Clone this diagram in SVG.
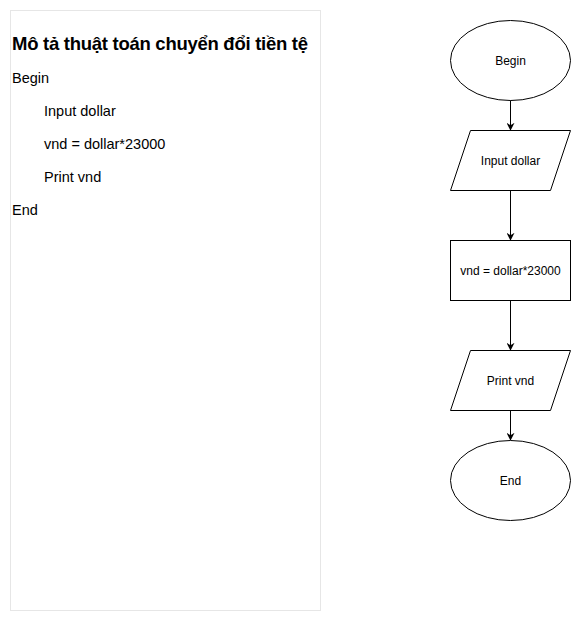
<svg xmlns="http://www.w3.org/2000/svg" width="581" height="623" viewBox="0 0 581 623">
<defs>
<style>
.n{fill:#fff;stroke:#000;stroke-width:1}
.t{font-family:"Liberation Sans",Arial,sans-serif;font-size:12px;fill:#000;text-anchor:middle;dominant-baseline:central}
.d{font-family:"Liberation Sans",Arial,sans-serif;font-size:14.5px;fill:#000}
.c{stroke:#000;stroke-width:1;fill:none;marker-end:url(#a)}
</style>
<marker id="a" viewBox="0 0 10 10" refX="9" refY="5" markerWidth="8" markerHeight="8" markerUnits="userSpaceOnUse" orient="auto">
<path d="M0,0 L10,5 L0,10 L3,5 Z" fill="#000"/>
</marker>
</defs>
<rect width="581" height="623" fill="#fff"/>
<g id="desc">
<rect x="10.5" y="10.5" width="310" height="600" fill="#fff" stroke="#e6e6e6"/>
<text class="d" x="12" y="50" style="font-size:18.5px;font-weight:bold" textLength="296" lengthAdjust="spacing">Mô tả thuật toán chuyển đổi tiền tệ</text>
<text class="d" x="12" y="83">Begin</text>
<text class="d" x="44" y="116">Input dollar</text>
<text class="d" x="44" y="149">vnd = dollar*23000</text>
<text class="d" x="44" y="182">Print vnd</text>
<text class="d" x="12" y="215">End</text>
</g>
<g id="connectors">
<line class="c" x1="510.5" y1="100" x2="510.5" y2="130"/>
<line class="c" x1="510.5" y1="190" x2="510.5" y2="240"/>
<line class="c" x1="510.5" y1="300" x2="510.5" y2="350"/>
<line class="c" x1="510.5" y1="410" x2="510.5" y2="440"/>
</g>
<g id="begin">
<ellipse class="n" cx="510.5" cy="60.5" rx="60" ry="40"/>
<text class="t" x="510.5" y="60.5">Begin</text>
</g>
<g id="input">
<polygon class="n" points="470.5,130.5 570.5,130.5 550.5,190.5 450.5,190.5"/>
<text class="t" x="510.5" y="160.5">Input dollar</text>
</g>
<g id="compute">
<rect class="n" x="450.5" y="240.5" width="120" height="60"/>
<text class="t" x="510.5" y="270.5">vnd = dollar*23000</text>
</g>
<g id="print">
<polygon class="n" points="470.5,350.5 570.5,350.5 550.5,410.5 450.5,410.5"/>
<text class="t" x="510.5" y="380.5">Print vnd</text>
</g>
<g id="end">
<ellipse class="n" cx="510.5" cy="480.5" rx="60" ry="40"/>
<text class="t" x="510.5" y="480.5">End</text>
</g>
</svg>
